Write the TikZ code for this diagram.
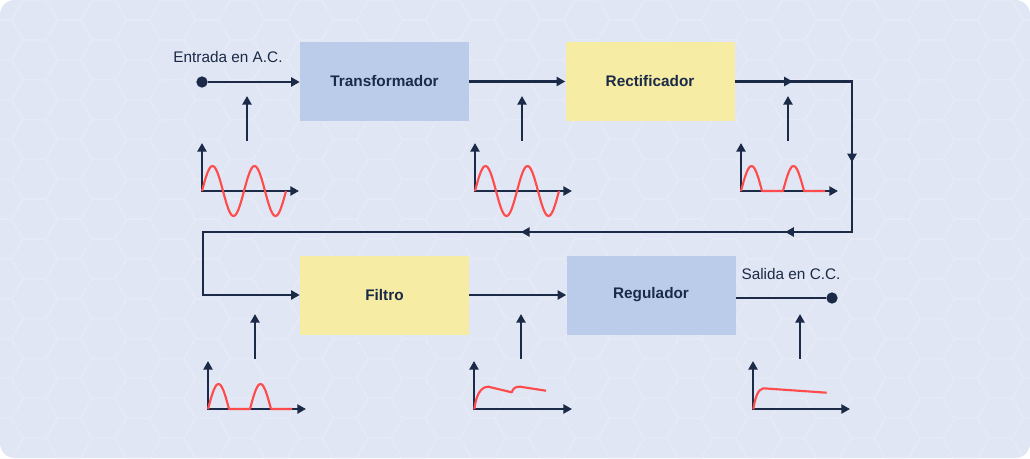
\documentclass[tikz,border=0pt]{standalone}
\usepackage{fontspec}
\setmainfont{Liberation Sans}
\usetikzlibrary{arrows.meta,positioning,decorations.markings}

\definecolor{bgpanel}{HTML}{E0E6F3}
\definecolor{hexline}{HTML}{E5EAF6}
\definecolor{navy}{HTML}{1B2A47}
\definecolor{boxblue}{HTML}{BBCCEB}
\definecolor{boxyellow}{HTML}{F6ECA4}
\definecolor{wavered}{HTML}{FF4B4B}

\begin{document}
\begin{tikzpicture}[x=0.75pt,y=-0.75pt,>={Triangle[length=6.5pt,width=6.8pt]},
    block/.style={minimum width=126.75pt,minimum height=59.25pt,inner sep=0pt,
      font=\bfseries\fontsize{11.5}{14}\selectfont,text=navy},
    wire/.style={draw=navy,line width=1.8pt},
    axis/.style={draw=navy,line width=1.8pt,<->},
    wave/.style={draw=wavered,line width=1.6pt,line join=round},
    lbl/.style={font=\fontsize{11.5}{14}\selectfont,text=navy,inner sep=0pt},
    dot/.style={circle,fill=navy,inner sep=0pt,minimum size=8.5pt}]
	% panel
	\path[fill=bgpanel,rounded corners=11pt] (0,0) rectangle (1030,458);
	\begin{scope}
		\clip[rounded corners=11pt] (0,0) rectangle (1030,458);
		\foreach \i in {0,...,30}
			\foreach \j in {-1,...,12}
				\draw[hexline,line width=1.1pt] ({\i*34.5},{\j*39.84+mod(\i,2)*19.92})
					+(0:23) -- +(60:23) -- +(120:23) -- +(180:23) -- +(240:23) -- +(300:23) -- cycle;
	\end{scope}
	\useasboundingbox (0,0) rectangle (1030,458);

	% blocks
	\node[block,fill=boxblue] (trafo) at (384.5,81.5) {Transformador};
	\node[block,fill=boxyellow] [right=72pt of trafo] (rect) {Rectificador};
	\node[block,fill=boxyellow] (filtro) at (384.5,295) {Filtro};
	\node[block,fill=boxblue] [right=72.75pt of filtro] (reg) {Regulador};

	\node[dot] (ac) at (202,82) {};
	\node[lbl] (aclbl) at (228,57) {Entrada en A.C.};
	\node[dot] (cc) at (832,298) {};
	\node[lbl] (cclbl) at (791,274) {Salida en C.C.};

	\coordinate (ne) at (852,81.5);
	\coordinate (se) at (852,232);
	\coordinate (sw) at (203,232);

	% signal path
	\draw[wire,->] (ac) -- (ac -| trafo.west);
	\draw[wire,->] (trafo) -- (rect);
	\draw[wire,->,postaction={decorate},decoration={markings,
			mark=at position 43.5pt with {\arrow{>}},
			mark=at position 148.5pt with {\arrow{>}},
			mark=at position 250.9pt with {\arrow{>}},
			mark=at position 449.1pt with {\arrow{>}}}]
		(rect.east) -- (ne) -- (se) -- (sw) |- (filtro.west);
	\draw[wire,->] (filtro) -- (reg);
	\draw[wire] (reg.east |- cc) -- (cc);

	% waveforms
	\draw[axis] (202,143) |- (299,191);
	\draw[wave] plot[domain=0:84,samples=85,smooth] ({202+\x},{191-25*sin(\x*8.5714)});
	\draw[axis] (475,143) |- (572,191);
	\draw[wave] plot[domain=0:84,samples=85,smooth] ({475+\x},{191-25*sin(\x*8.5714)});
	\draw[axis] (741,143) |- (838,191);
	\draw[wave] plot[domain=0:84,samples=85] ({741+\x},{191-25*max(sin(\x*8.5714),0)});
	\draw[axis] (208,361) |- (306,409);
	\draw[wave] plot[domain=0:84,samples=85] ({208+\x},{409-25*max(sin(\x*8.5714),0)});
	\draw[axis] (474,361) |- (572,409);
	\draw[wave] (474.3,409.3) .. controls (476,396) and (480,387) .. (488.3,386.7) -- (511.7,392.3)
		.. controls (513,388) and (516,386.5) .. (520,386.7) -- (546,390.7);
	\draw[axis] (753,361) |- (850,409);
	\draw[wave] (753.3,409.3) .. controls (755,398) and (758,389) .. (763.3,388.3) -- (826.7,392.7);

	% arrows from waveforms
	\coordinate (u1) at (247,141); \coordinate (v1) at (247,96);
	\coordinate (u2) at (522,141); \coordinate (v2) at (522,96);
	\coordinate (u3) at (788,141); \coordinate (v3) at (788,96);
	\coordinate (u4) at (255,359); \coordinate (v4) at (255,314);
	\coordinate (u5) at (521,359); \coordinate (v5) at (521,314);
	\coordinate (u6) at (800,359); \coordinate (v6) at (800,314);
	\foreach \k in {1,...,6}
		\draw[wire,->] (u\k) -- (v\k);
\end{tikzpicture}
\end{document}
